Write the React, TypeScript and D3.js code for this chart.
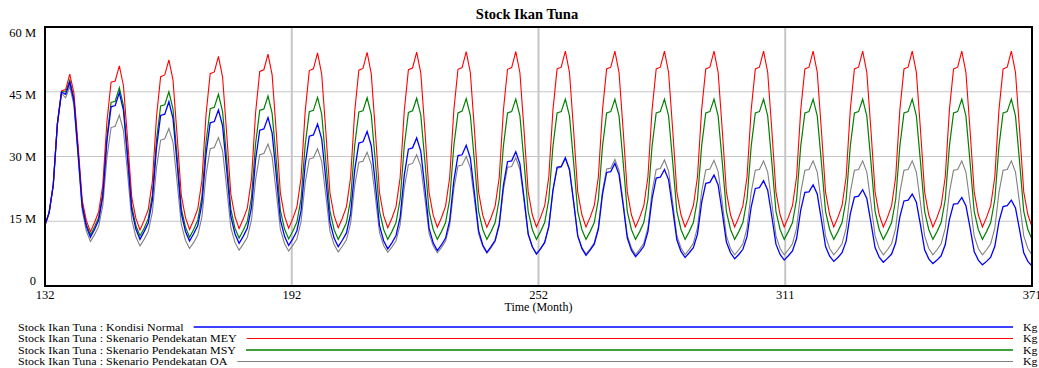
import React, { useEffect, useRef } from "react";
import * as d3 from "d3";

const startMonth = 132;
const endMonth = 371;
const chartTitle = "Stock Ikan Tuna";
const xAxisTitle = "Time (Month)";
const xTickValues = [132, 191.75, 251.5, 311.25, 371];
const xTickLabels = ["132", "192", "252", "311", "371"];
const yTickValues = [0, 15, 30, 45, 60];
const yTickLabels = ["0", "15 M", "30 M", "45 M", "60 M"];
const unitLabel = "Kg";
const seriesNames = [
  "Stock Ikan Tuna : Kondisi Normal",
  "Stock Ikan Tuna : Skenario Pendekatan MEY",
  "Stock Ikan Tuna : Skenario Pendekatan MSY",
  "Stock Ikan Tuna : Skenario Pendekatan OA",
];

// values in millions of Kg, one per month from 132 to 371
const kondisiNormal = [
  14.1, 17.0, 23.4, 37.5, 44.9, 44.4, 47.2, 42.9, 31.0, 18.5, 13.8, 11.3,
  13.1, 15.3, 20.8, 33.6, 41.5, 41.8, 44.8, 40.7, 29.5, 17.6, 13.2, 10.8,
  12.6, 14.6, 19.9, 32.0, 39.5, 39.8, 42.7, 38.8, 28.2, 16.9, 12.7, 10.4,
  12.1, 14.0, 19.1, 30.6, 37.8, 38.1, 40.8, 37.1, 26.9, 16.1, 12.1, 9.9,
  11.5, 13.4, 18.2, 29.3, 36.1, 36.4, 39.0, 35.4, 25.7, 15.3, 11.5, 9.4,
  10.9, 12.8, 17.4, 28.1, 34.7, 35.0, 37.5, 34.1, 24.7, 14.8, 11.1, 9.1,
  10.6, 12.3, 16.7, 26.9, 33.1, 33.4, 35.8, 32.5, 23.6, 14.0, 10.5, 8.6,
  10.0, 11.7, 15.9, 25.7, 31.7, 32.0, 34.3, 31.2, 22.6, 13.4, 10.0, 8.2,
  9.5, 11.1, 15.2, 24.4, 30.2, 30.4, 32.6, 29.6, 21.4, 12.8, 9.5, 7.8,
  9.1, 10.6, 14.4, 23.3, 28.8, 29.0, 31.1, 28.3, 20.4, 12.1, 9.1, 7.4,
  8.6, 10.1, 13.8, 22.2, 27.5, 27.7, 29.7, 27.0, 19.5, 11.6, 8.7, 7.1,
  8.3, 9.7, 13.2, 21.3, 26.3, 26.5, 28.4, 25.8, 18.7, 11.1, 8.3, 6.8,
  7.9, 9.2, 12.6, 20.2, 25.0, 25.2, 27.0, 24.6, 17.8, 10.7, 8.0, 6.6,
  7.7, 8.9, 12.0, 19.3, 23.8, 24.0, 25.7, 23.4, 17.0, 10.2, 7.7, 6.3,
  7.3, 8.5, 11.5, 18.3, 22.6, 22.8, 24.4, 22.2, 16.1, 9.7, 7.3, 6.0,
  7.0, 8.1, 11.0, 17.6, 21.7, 21.8, 23.4, 21.3, 15.4, 9.2, 6.9, 5.7,
  6.6, 7.7, 10.4, 16.7, 20.6, 20.8, 22.3, 20.3, 14.7, 8.9, 6.7, 5.5,
  6.4, 7.4, 10.0, 16.0, 19.7, 19.9, 21.3, 19.4, 14.1, 8.4, 6.3, 5.2,
  6.0, 7.0, 9.6, 15.4, 19.0, 19.1, 20.5, 18.6, 13.5, 8.0, 6.0, 4.9,
  5.7, 6.7, 9.2, 14.9, 18.4, 18.6, 19.9, 18.1, 13.0, 7.7, 5.7, 4.6,
];

const skenarioMEY = [
  14.1, 17.0, 23.4, 37.8, 45.2, 45.5, 49.1, 44.7, 32.7, 19.9, 15.2, 12.6,
  14.7, 17.2, 23.5, 38.1, 47.2, 47.5, 51.0, 46.4, 33.9, 20.6, 15.7, 13.0,
  15.2, 17.7, 24.2, 39.2, 48.5, 48.9, 52.4, 47.7, 34.7, 21.0, 15.9, 13.1,
  15.3, 17.9, 24.5, 39.8, 49.2, 49.6, 53.2, 48.4, 35.2, 21.3, 16.1, 13.3,
  15.5, 18.1, 24.8, 40.2, 49.7, 50.1, 53.7, 48.9, 35.6, 21.5, 16.2, 13.4,
  15.6, 18.3, 25.0, 40.4, 49.9, 50.3, 54.0, 49.1, 35.8, 21.6, 16.3, 13.5,
  15.7, 18.4, 25.1, 40.5, 50.0, 50.4, 54.1, 49.2, 35.8, 21.6, 16.3, 13.5,
  15.7, 18.4, 25.1, 40.6, 50.1, 50.5, 54.2, 49.3, 35.9, 21.7, 16.4, 13.6,
  15.8, 18.5, 25.2, 40.7, 50.2, 50.6, 54.3, 49.4, 36.0, 21.7, 16.4, 13.6,
  15.8, 18.5, 25.2, 40.7, 50.2, 50.6, 54.3, 49.4, 36.0, 21.8, 16.5, 13.7,
  15.9, 18.6, 25.3, 40.8, 50.3, 50.7, 54.4, 49.5, 36.1, 21.8, 16.5, 13.7,
  15.9, 18.6, 25.3, 40.8, 50.3, 50.7, 54.4, 49.5, 36.1, 21.8, 16.5, 13.7,
  15.9, 18.6, 25.3, 40.8, 50.3, 50.7, 54.4, 49.5, 36.1, 21.8, 16.5, 13.7,
  15.9, 18.6, 25.3, 40.8, 50.3, 50.7, 54.4, 49.5, 36.1, 21.8, 16.5, 13.7,
  15.9, 18.6, 25.3, 40.8, 50.3, 50.7, 54.4, 49.5, 36.1, 21.8, 16.5, 13.7,
  15.9, 18.6, 25.3, 40.8, 50.3, 50.7, 54.4, 49.5, 36.1, 21.8, 16.5, 13.7,
  15.9, 18.6, 25.3, 40.8, 50.3, 50.7, 54.4, 49.5, 36.1, 21.8, 16.5, 13.7,
  15.9, 18.6, 25.3, 40.8, 50.3, 50.7, 54.4, 49.5, 36.1, 21.8, 16.5, 13.7,
  15.9, 18.6, 25.3, 40.8, 50.3, 50.7, 54.4, 49.5, 36.1, 21.8, 16.5, 13.7,
  15.9, 18.6, 25.3, 40.8, 50.3, 50.7, 54.4, 49.5, 36.1, 21.8, 16.5, 13.7,
];

const skenarioMSY = [
  14.1, 17.0, 23.4, 37.6, 45.0, 45.0, 47.7, 43.4, 31.5, 19.0, 14.3, 11.8,
  13.7, 15.9, 21.5, 34.5, 42.5, 42.8, 45.9, 41.8, 30.5, 18.5, 14.0, 11.6,
  13.4, 15.6, 21.1, 33.8, 41.7, 42.0, 45.0, 41.0, 29.8, 18.0, 13.7, 11.3,
  13.1, 15.3, 20.7, 33.3, 41.1, 41.4, 44.4, 40.4, 29.4, 17.8, 13.4, 11.1,
  12.9, 15.0, 20.5, 33.0, 40.7, 41.0, 44.0, 40.0, 29.1, 17.5, 13.2, 10.9,
  12.7, 14.8, 20.2, 32.7, 40.4, 40.7, 43.7, 39.8, 28.9, 17.4, 13.1, 10.8,
  12.6, 14.7, 20.1, 32.6, 40.3, 40.6, 43.6, 39.7, 28.8, 17.4, 13.1, 10.8,
  12.6, 14.7, 20.1, 32.5, 40.2, 40.6, 43.5, 39.6, 28.8, 17.3, 13.1, 10.8,
  12.6, 14.7, 20.1, 32.5, 40.1, 40.5, 43.4, 39.5, 28.7, 17.3, 13.1, 10.8,
  12.6, 14.7, 20.1, 32.4, 40.1, 40.4, 43.3, 39.4, 28.7, 17.3, 13.1, 10.8,
  12.6, 14.7, 20.1, 32.4, 40.1, 40.4, 43.3, 39.4, 28.7, 17.3, 13.1, 10.8,
  12.6, 14.7, 20.1, 32.4, 40.1, 40.4, 43.3, 39.4, 28.7, 17.3, 13.1, 10.8,
  12.6, 14.7, 20.1, 32.4, 40.1, 40.4, 43.3, 39.4, 28.7, 17.3, 13.1, 10.8,
  12.6, 14.7, 20.1, 32.4, 40.1, 40.4, 43.3, 39.4, 28.7, 17.3, 13.1, 10.8,
  12.6, 14.7, 20.1, 32.4, 40.1, 40.4, 43.3, 39.4, 28.7, 17.3, 13.1, 10.8,
  12.6, 14.7, 20.1, 32.4, 40.1, 40.4, 43.3, 39.4, 28.7, 17.3, 13.1, 10.8,
  12.6, 14.7, 20.1, 32.4, 40.1, 40.4, 43.3, 39.4, 28.7, 17.3, 13.1, 10.8,
  12.6, 14.7, 20.1, 32.4, 40.1, 40.4, 43.3, 39.4, 28.7, 17.3, 13.1, 10.8,
  12.6, 14.7, 20.1, 32.4, 40.1, 40.4, 43.3, 39.4, 28.7, 17.3, 13.1, 10.8,
  12.6, 14.7, 20.1, 32.4, 40.1, 40.4, 43.3, 39.4, 28.7, 17.3, 13.1, 10.8,
];

const skenarioOA = [
  14.1, 17.0, 23.4, 37.4, 44.6, 43.6, 46.2, 41.9, 30.0, 17.5, 12.8, 10.3,
  11.9, 13.8, 18.7, 29.8, 36.7, 37.0, 39.6, 36.0, 26.0, 15.4, 11.4, 9.3,
  10.8, 12.6, 17.1, 27.4, 33.8, 34.1, 36.5, 33.2, 24.0, 14.3, 10.6, 8.7,
  10.1, 11.8, 16.0, 25.8, 31.8, 32.1, 34.4, 31.3, 22.7, 13.5, 10.1, 8.3,
  9.7, 11.3, 15.3, 24.7, 30.4, 30.7, 32.9, 29.9, 21.7, 13.1, 9.8, 8.1,
  9.4, 10.9, 14.9, 23.9, 29.4, 29.7, 31.8, 28.9, 21.0, 12.7, 9.6, 7.9,
  9.2, 10.7, 14.5, 23.3, 28.7, 28.9, 31.0, 28.2, 20.6, 12.4, 9.4, 7.8,
  9.0, 10.5, 14.2, 22.8, 28.1, 28.4, 30.4, 27.7, 20.2, 12.2, 9.3, 7.7,
  8.9, 10.4, 14.1, 22.5, 27.8, 28.0, 30.0, 27.3, 19.9, 12.1, 9.2, 7.6,
  8.8, 10.3, 13.9, 22.3, 27.5, 27.7, 29.7, 27.0, 19.7, 11.9, 9.1, 7.5,
  8.7, 10.1, 13.8, 22.1, 27.3, 27.5, 29.5, 26.8, 19.6, 11.8, 8.9, 7.4,
  8.6, 10.0, 13.6, 22.0, 27.1, 27.3, 29.3, 26.7, 19.4, 11.7, 8.8, 7.3,
  8.5, 9.9, 13.5, 21.9, 27.0, 27.2, 29.2, 26.6, 19.3, 11.7, 8.8, 7.3,
  8.5, 9.9, 13.5, 21.8, 26.9, 27.1, 29.1, 26.5, 19.2, 11.6, 8.7, 7.2,
  8.4, 9.8, 13.4, 21.7, 26.8, 27.0, 29.0, 26.4, 19.2, 11.6, 8.7, 7.2,
  8.4, 9.8, 13.4, 21.7, 26.8, 27.0, 29.0, 26.4, 19.2, 11.6, 8.7, 7.2,
  8.4, 9.8, 13.4, 21.7, 26.8, 27.0, 29.0, 26.4, 19.2, 11.6, 8.7, 7.2,
  8.4, 9.8, 13.4, 21.7, 26.8, 27.0, 29.0, 26.4, 19.2, 11.6, 8.7, 7.2,
  8.4, 9.8, 13.4, 21.7, 26.8, 27.0, 29.0, 26.4, 19.2, 11.6, 8.7, 7.2,
  8.4, 9.8, 13.4, 21.7, 26.8, 27.0, 29.0, 26.4, 19.2, 11.6, 8.7, 7.2,
];

const seriesValues = [kondisiNormal, skenarioMEY, skenarioMSY, skenarioOA];
const seriesColors = ["#0000ff", "#ff0000", "#008000", "#808080"];
const seriesWidths = [1.3, 1.1, 1.2, 1.1];

export default function App() {
  const ref = useRef<SVGSVGElement>(null);

  useEffect(() => {
    document.body.style.margin = "0";
    const W = 1039;
    const H = 368;
    const font = "'Liberation Serif', 'Times New Roman', serif";
    const svg = d3.select(ref.current!);
    svg.selectAll("*").remove();
    svg.attr("width", W).attr("height", H);

    const left = 45, right = 1032, top = 27, bottom = 286;
    const x = d3.scaleLinear().domain([startMonth, endMonth]).range([left, right]);
    const y = d3.scaleLinear().domain([0, 60]).range([bottom, top]);
    const yLabelPos = d3.scaleLinear().domain([0, 60]).range([281, 33]);

    svg.append("rect").attr("width", W).attr("height", H).attr("fill", "#ffffff");

    // grid
    svg.append("g").selectAll("line.hg")
      .data(yTickValues.filter((v) => v > 0 && v < 60))
      .join("line").attr("class", "hg")
      .attr("x1", left).attr("x2", right)
      .attr("y1", (d) => y(d)).attr("y2", (d) => y(d))
      .attr("stroke", "#c6c6c6").attr("stroke-width", 1.2);
    svg.append("g").selectAll("line.vg")
      .data(xTickValues.slice(1, -1))
      .join("line").attr("class", "vg")
      .attr("x1", (d) => x(d)).attr("x2", (d) => x(d))
      .attr("y1", top).attr("y2", bottom)
      .attr("stroke", "#c6c6c6").attr("stroke-width", 2);

    // series
    const line = d3.line<number>()
      .x((_, i) => x(startMonth + i))
      .y((d) => y(d));
    const order = [3, 2, 1, 0];
    svg.append("g").selectAll("path")
      .data(order)
      .join("path")
      .attr("d", (k) => line(seriesValues[k]) as string)
      .attr("fill", "none")
      .attr("stroke", (k) => seriesColors[k])
      .attr("stroke-width", (k) => seriesWidths[k])
      .attr("stroke-linejoin", "miter");

    // frame
    svg.append("rect")
      .attr("x", left).attr("y", top)
      .attr("width", right - left).attr("height", bottom - top)
      .attr("fill", "none").attr("stroke", "#000").attr("stroke-width", 2);

    // y labels
    svg.append("g").selectAll("text")
      .data(yTickValues)
      .join("text")
      .attr("x", 36).attr("y", (d) => yLabelPos(d))
      .attr("dy", "0.35em")
      .attr("text-anchor", "end")
      .attr("font-family", font).attr("font-size", 12.5)
      .attr("fill", "#000")
      .text((_, i) => yTickLabels[i]);

    // x labels
    svg.append("g").selectAll("text")
      .data(xTickValues)
      .join("text")
      .attr("x", (d) => x(d)).attr("y", 299)
      .attr("text-anchor", "middle")
      .attr("font-family", font).attr("font-size", 12.5)
      .attr("fill", "#000")
      .text((_, i) => xTickLabels[i]);

    svg.append("text")
      .attr("x", (left + right) / 2).attr("y", 311)
      .attr("text-anchor", "middle")
      .attr("font-family", font).attr("font-size", 12)
      .text(xAxisTitle);

    svg.append("text")
      .attr("x", 527).attr("y", 19)
      .attr("text-anchor", "middle")
      .attr("font-family", font).attr("font-size", 14.5).attr("font-weight", "bold")
      .text(chartTitle);

    // legend
    const rowY = [327, 338.5, 350, 361.5];
    const lineEnd = 1013;
    seriesNames.forEach((name, i) => {
      const t = svg.append("text")
        .attr("x", 18).attr("y", rowY[i] + 3.5)
        .attr("font-family", font).attr("font-size", 12)
        .attr("fill", "#000")
        .text(name);
      const w = (t.node() as SVGTextElement).getComputedTextLength();
      t.attr("font-size", 10.5)
        .attr("textLength", w)
        .attr("lengthAdjust", "spacingAndGlyphs");
      svg.append("line")
        .attr("x1", 18 + w + 10).attr("x2", lineEnd)
        .attr("y1", rowY[i]).attr("y2", rowY[i])
        .attr("stroke", seriesColors[i])
        .attr("stroke-width", i === 0 || i === 2 ? 1.6 : 1);
      svg.append("text")
        .attr("x", 1023).attr("y", rowY[i] + 3.5)
        .attr("font-family", font).attr("font-size", 10.5)
        .attr("textLength", 14.5)
        .attr("lengthAdjust", "spacingAndGlyphs")
        .text(unitLabel);
    });
  }, []);

  return <svg ref={ref} style={{ display: "block" }} />;
}
